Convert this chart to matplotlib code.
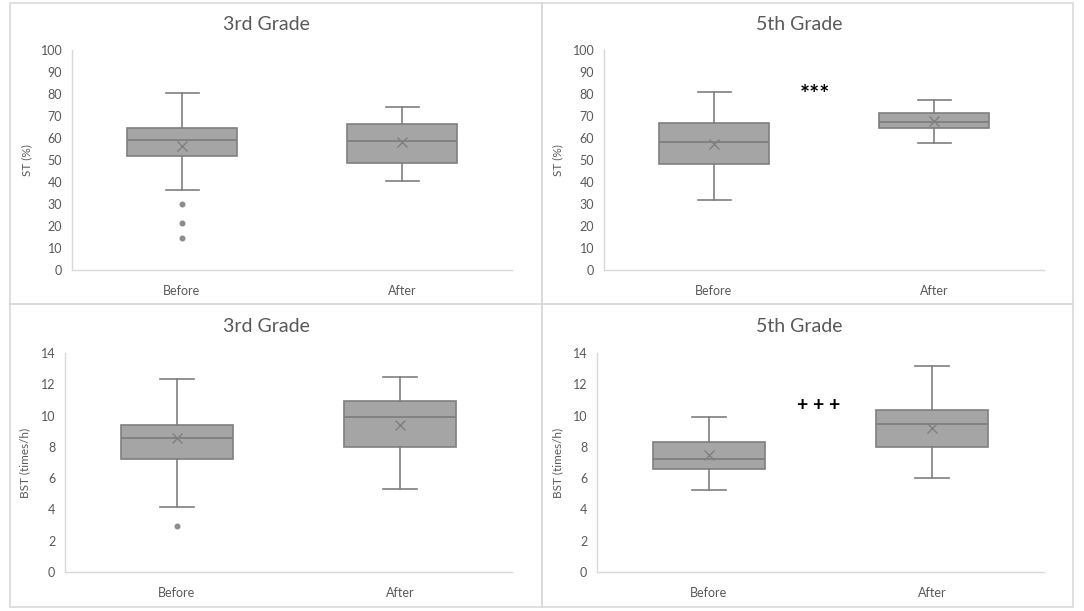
import matplotlib
matplotlib.use("Agg")
import matplotlib.pyplot as plt
from matplotlib.patches import Rectangle

plt.rcParams['font.family'] = ['Lato', 'DejaVu Sans']

groups = ["Before", "After"]

# ST (%) - 3rd grade
st3_lo = [36.4, 40.5]
st3_q1 = [51.7, 48.6]
st3_med = [59.2, 58.8]
st3_q3 = [64.7, 66.2]
st3_hi = [80.3, 74.2]
st3_mean = [56.4, 58.3]
st3_out = [[29.8, 21.2, 14.5], []]

# ST (%) - 5th grade
st5_lo = [31.8, 57.6]
st5_q1 = [48.2, 64.4]
st5_med = [58.2, 67.4]
st5_q3 = [66.8, 71.2]
st5_hi = [81.1, 77.4]
st5_mean = [57.1, 67.7]
st5_out = [[], []]

# BST (times/h) - 3rd grade
bst3_lo = [4.18, 5.33]
bst3_q1 = [7.24, 7.97]
bst3_med = [8.58, 9.88]
bst3_q3 = [9.37, 10.92]
bst3_hi = [12.36, 12.45]
bst3_mean = [8.55, 9.37]
bst3_out = [[2.91], []]

# BST (times/h) - 5th grade
bst5_lo = [5.25, 6.03]
bst5_q1 = [6.60, 8.01]
bst5_med = [7.24, 9.47]
bst5_q3 = [8.32, 10.34]
bst5_hi = [9.94, 13.15]
bst5_mean = [7.46, 9.20]
bst5_out = [[], []]

W, H = 1084, 611
fig = plt.figure(figsize=(W / 100, H / 100), dpi=100)
fig.patch.set_facecolor("white")


def frac(x0, y0, x1, y1):
    return [x0 / W, 1 - y1 / H, (x1 - x0) / W, (y1 - y0) / H]


# panel borders
for (x0, y0, x1, y1) in [(10, 3, 542, 304), (542, 3, 1073, 304),
                         (10, 304, 542, 607), (542, 304, 1073, 607)]:
    fig.add_artist(Rectangle((x0 / W, 1 - y1 / H), (x1 - x0) / W, (y1 - y0) / H,
                             transform=fig.transFigure, fill=False,
                             edgecolor="#d9d9d9", linewidth=1.2))

panels = [
    dict(box=(72, 50, 512, 270), title="3rd Grade", tpos=(266, 24), ylabel="ST (%)", ylx=27,
         lo=st3_lo, q1=st3_q1, med=st3_med, q3=st3_q3, hi=st3_hi, mean=st3_mean, out=st3_out,
         ylim=(0, 100), yticks=range(0, 101, 10), ann=None),
    dict(box=(604, 50, 1044, 270), title="5th Grade", tpos=(799, 24), ylabel="ST (%)", ylx=558,
         lo=st5_lo, q1=st5_q1, med=st5_med, q3=st5_q3, hi=st5_hi, mean=st5_mean, out=st5_out,
         ylim=(0, 100), yticks=range(0, 101, 10), ann=("***", 1.46, 79.5, 17)),
    dict(box=(65, 353, 512, 572), title="3rd Grade", tpos=(266, 326), ylabel="BST (times/h)", ylx=25,
         lo=bst3_lo, q1=bst3_q1, med=bst3_med, q3=bst3_q3, hi=bst3_hi, mean=bst3_mean, out=bst3_out,
         ylim=(0, 14), yticks=range(0, 15, 2), ann=None),
    dict(box=(597, 353, 1044, 572), title="5th Grade", tpos=(799, 326), ylabel="BST (times/h)", ylx=558,
         lo=bst5_lo, q1=bst5_q1, med=bst5_med, q3=bst5_q3, hi=bst5_hi, mean=bst5_mean, out=bst5_out,
         ylim=(0, 14), yticks=range(0, 15, 2), ann=("+ + +", 1.49, 10.66, 14)),
]

grey = "#7f7f7f"
fill = "#a5a5a5"
txt = "#595959"

for p in panels:
    ax = fig.add_axes(frac(*p["box"]))
    stats = []
    for i, g in enumerate(groups):
        stats.append(dict(label=g, whislo=p["lo"][i], q1=p["q1"][i], med=p["med"][i],
                          q3=p["q3"][i], whishi=p["hi"][i], mean=p["mean"][i],
                          fliers=p["out"][i]))
    ax.bxp(stats, positions=[1, 2], widths=0.5, capwidths=0.15, patch_artist=True,
           showmeans=True, showfliers=True,
           boxprops=dict(facecolor=fill, edgecolor=grey, linewidth=1.2),
           medianprops=dict(color=grey, linewidth=1.3),
           whiskerprops=dict(color=grey, linewidth=1.2),
           capprops=dict(color=grey, linewidth=1.2),
           meanprops=dict(marker="x", markeredgecolor="#808080", markersize=7.5,
                          markeredgewidth=1.0, linestyle="none"),
           flierprops=dict(marker="o", markerfacecolor="#8c8c8c", markeredgecolor="#8c8c8c",
                           markersize=3.3, linestyle="none"))
    ax.set_xlim(0.5, 2.5)
    ax.set_ylim(*p["ylim"])
    ax.set_yticks(list(p["yticks"]))
    ax.set_xticks([1, 2])
    ax.set_xticklabels(groups)
    ax.tick_params(axis="both", length=0, labelsize=9, colors=txt)
    ax.tick_params(axis="x", pad=11)
    ax.tick_params(axis="y", pad=7)
    for s in ["top", "right"]:
        ax.spines[s].set_visible(False)
    for s in ["left", "bottom"]:
        ax.spines[s].set_color("#d9d9d9")
        ax.spines[s].set_linewidth(1.0)
    ax.set_facecolor("none")
    yc = (p["box"][1] + p["box"][3]) / 2
    fig.text(p["ylx"] / W, 1 - yc / H, p["ylabel"], rotation=90, ha="center", va="center",
             fontsize=8.5, color=txt)
    fig.text(p["tpos"][0] / W, 1 - p["tpos"][1] / H, p["title"], ha="center", va="center",
             fontsize=14, color=txt)
    if p["ann"]:
        a, x, y, fs = p["ann"]
        ax.text(x, y, a, ha="center", va="center", fontsize=fs, fontweight="bold", color="black")

fig.savefig("out.png", dpi=100)
